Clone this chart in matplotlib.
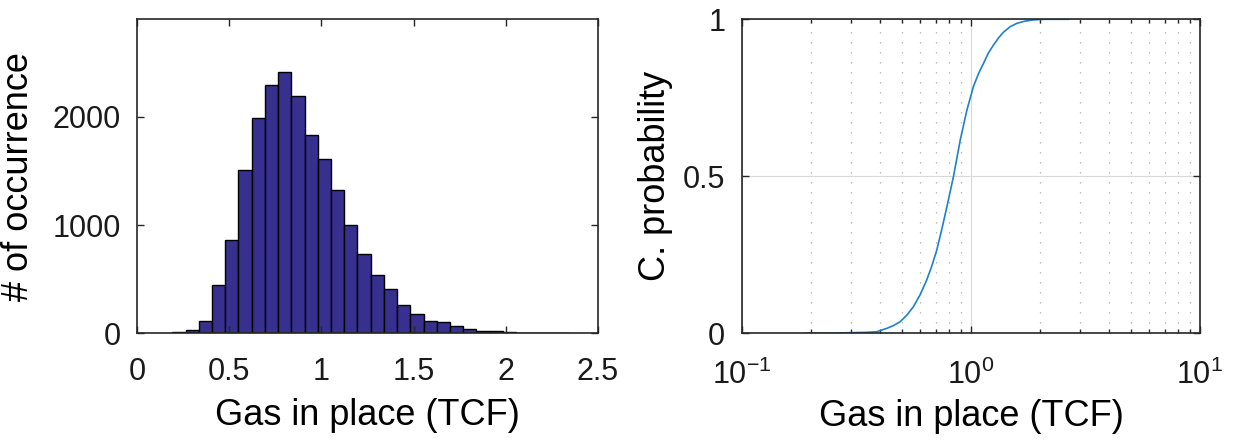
import numpy as np
import matplotlib
matplotlib.use("Agg")
import matplotlib.pyplot as plt
from matplotlib.ticker import LogLocator, NullFormatter

# =============================================================================
# * Data
# =============================================================================

# histogram of simulated gas in place
bin_start = 0.19
bin_width = 0.0718
counts = [12, 30, 116, 445, 861, 1511, 1987, 2289, 2415, 2191,
          1831, 1605, 1322, 1000, 733, 537, 409, 261, 177, 110,
          104, 64, 40, 24, 21, 10, 6, 4, 3, 2]

# cumulative probability curve
cdf_x = [0.187, 0.25, 0.297, 0.35, 0.388, 0.43, 0.46, 0.491, 0.525, 0.561,
         0.60, 0.641, 0.675, 0.709, 0.745, 0.785, 0.839, 0.898, 0.960, 1.025,
         1.08, 1.135, 1.19, 1.254, 1.32, 1.387, 1.48, 1.585, 1.72, 1.874,
         2.1, 2.66]
cdf_p = [0.0, 0.0005, 0.002, 0.003, 0.005, 0.016, 0.025, 0.037, 0.058, 0.085,
         0.123, 0.17, 0.215, 0.265, 0.33, 0.403, 0.5, 0.616, 0.711, 0.786,
         0.828, 0.86, 0.892, 0.918, 0.941, 0.959, 0.976, 0.987, 0.994, 0.998,
         1.0, 1.0]

x_label = "Gas in place (TCF)"
hist_ylabel = "# of occurrence"
cdf_ylabel = "C. probability"

# =============================================================================
# * Style
# =============================================================================

plt.rcParams["font.family"] = ["Liberation Sans", "DejaVu Sans"]
plt.rcParams["mathtext.default"] = "regular"
plt.rcParams["font.size"] = 22
LABEL_SIZE = 26
AX_COLOR = "#262626"


def style_axes(ax, xpad):
    for s in ax.spines.values():
        s.set_linewidth(1.2)
        s.set_color(AX_COLOR)
    ax.tick_params(which="both", direction="in", top=True, right=True,
                   colors=AX_COLOR, labelcolor="#1a1a1a", width=1.0)
    ax.tick_params(which="major", length=5)
    ax.tick_params(axis="x", pad=xpad)
    ax.tick_params(axis="y", pad=12)


fig = plt.figure(figsize=(12.37, 4.47), dpi=100)

# =============================================================================
# * Left: histogram
# =============================================================================
ax1 = fig.add_axes([0.111, 0.2544, 0.3722, 0.7025])
lefts = bin_start + bin_width * np.arange(len(counts))
ax1.bar(lefts, counts, width=bin_width, align="edge",
        color="#37308f", edgecolor="black", linewidth=1.0)
ax1.set_xlim(0, 2.5)
ax1.set_ylim(0, 2900)
ax1.set_xticks([0, 0.5, 1, 1.5, 2, 2.5])
ax1.set_xticklabels(["0", "0.5", "1", "1.5", "2", "2.5"])
ax1.set_yticks([0, 1000, 2000])
ax1.set_xlabel(x_label, fontsize=LABEL_SIZE, labelpad=8)
ax1.set_ylabel(hist_ylabel, fontsize=LABEL_SIZE, labelpad=12)
style_axes(ax1, 17)
ax1.tick_params(which="minor", length=0)

# =============================================================================
# * Right: cumulative probability
# =============================================================================
ax2 = fig.add_axes([0.5998, 0.2544, 0.3703, 0.7025])
ax2.set_xscale("log")
ax2.plot(cdf_x, cdf_p, color="#1f80cc", linewidth=1.2)
ax2.set_xlim(0.1, 10)
ax2.set_ylim(0, 1)
ax2.set_xticks([0.1, 1, 10])
ax2.set_xticklabels(["$10^{-1}$", "$10^{0}$", "$10^{1}$"])
ax2.xaxis.set_minor_locator(LogLocator(base=10, subs=np.arange(2, 10)))
ax2.xaxis.set_minor_formatter(NullFormatter())
ax2.set_yticks([0, 0.5, 1])
ax2.set_yticklabels(["0", "0.5", "1"])
ax2.grid(True, which="major", color="#d9d9d9", linewidth=0.8, linestyle="-")
ax2.grid(True, which="minor", axis="x", color="#a8a8a8", linewidth=0.9,
         linestyle=(0, (1, 7)))
ax2.set_axisbelow(True)
ax2.set_xlabel(x_label, fontsize=LABEL_SIZE, labelpad=6)
ax2.set_ylabel(cdf_ylabel, fontsize=LABEL_SIZE, labelpad=7)
style_axes(ax2, 19)
ax2.tick_params(which="minor", length=3)

fig.savefig("out.png", dpi=100)
